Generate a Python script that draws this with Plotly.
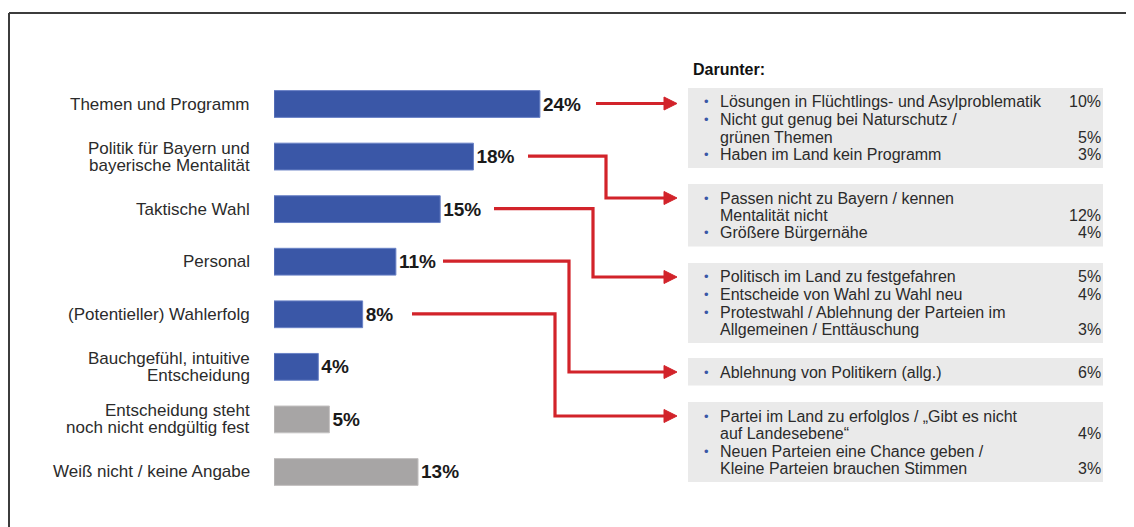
import plotly.graph_objects as go

W, H = 1134, 527
OFF = 8  # the page body adds an 8px margin, so the figure is drawn 8px smaller

# main bars
categories = [
    "Themen und Programm",
    "Politik für Bayern und<br>bayerische Mentalität",
    "Taktische Wahl",
    "Personal",
    "(Potentieller) Wahlerfolg",
    "Bauchgefühl, intuitive<br>Entscheidung",
    "Entscheidung steht<br>noch nicht endgültig fest",
    "Weiß nicht / keine Angabe",
]
values = [24, 18, 15, 11, 8, 4, 5, 13]
is_reason = [True, True, True, True, True, True, False, False]

# "Darunter" detail boxes: (text lines, percent)
detail_themen = [
    (["Lösungen in Flüchtlings- und Asylproblematik"], 10),
    (["Nicht gut genug bei Naturschutz /", "grünen Themen"], 5),
    (["Haben im Land kein Programm"], 3),
]
detail_bayern = [
    (["Passen nicht zu Bayern / kennen", "Mentalität nicht"], 12),
    (["Größere Bürgernähe"], 4),
]
detail_taktik = [
    (["Politisch im Land zu festgefahren"], 5),
    (["Entscheide von Wahl zu Wahl neu"], 4),
    (["Protestwahl / Ablehnung der Parteien im", "Allgemeinen / Enttäuschung"], 3),
]
detail_personal = [
    (["Ablehnung von Politikern (allg.)"], 6),
]
detail_erfolg = [
    (["Partei im Land zu erfolglos / „Gibt es nicht", "auf Landesebene“"], 4),
    (["Neuen Parteien eine Chance geben /", "Kleine Parteien brauchen Stimmen"], 3),
]
details = [detail_themen, detail_bayern, detail_taktik, detail_personal, detail_erfolg]

# layout constants (page pixels)
BLUE = "#3A57A7"
GRAY = "#A7A5A5"
RED = "#D2232A"
TXT = "#2b2b2b"
FONT = "Liberation Sans, Arial, sans-serif"
BAR_X0 = 274
PX_PER_PCT = 11.08
ROW_TOP, ROW_STEP = 104, 52.57
BOX_X0, BOX_X1 = 688, 1103
BOX_TOPS = [88, 184, 263, 358, 402]
LINE_H = 17.5
TIP_X = 677
# start x and elbow x of each connector
CONN_START = [596, 528, 494, 443, 412]
CONN_ELBOW = [None, 606, 593, 569, 555]

FW, FH = W - OFF, H - OFF


def px(x):
    return (x - OFF) / FW


def py(y):
    return 1 - (y - OFF) / FH


y_top = ROW_TOP - ROW_STEP / 2
y_bot = ROW_TOP + ROW_STEP * (len(categories) - 0.5)

fig = go.Figure()
fig.add_trace(go.Bar(
    x=values, y=categories, orientation="h",
    marker=dict(color=[BLUE if r else GRAY for r in is_reason],
                line=dict(color=["#6A82C6" if r else "#C4C2C2" for r in is_reason], width=1)),
    width=0.51,
    texttemplate="<b>%{x}%</b>", textposition="outside",
    textfont=dict(family=FONT, size=19, color="#1a1a1a"),
    cliponaxis=False, constraintext="none", hoverinfo="skip",
))

annotations = []
# category labels, one annotation per line to keep tight spacing
for cat in categories:
    lines = cat.split("<br>")
    n = len(lines)
    for j, line in enumerate(lines):
        annotations.append(dict(
            x=px(252), xref="paper", y=cat, yref="y", xanchor="right", yanchor="middle",
            yshift=((n - 1) / 2 - j) * 17, text=line, showarrow=False,
            font=dict(family=FONT, size=17, color=TXT)))

annotations.append(dict(x=px(691), y=py(70), xref="paper", yref="paper", xanchor="left",
                        yanchor="middle", text="<b>Darunter:</b>", showarrow=False,
                        font=dict(family=FONT, size=16, color="#111")))

shapes = []
for b, items in enumerate(details):
    top = BOX_TOPS[b]
    nlines = sum(len(l) for l, _ in items)
    shapes.append(dict(type="rect", xref="paper", yref="paper", x0=px(BOX_X0), x1=px(BOX_X1),
                       y0=py(top), y1=py(top + nlines * LINE_H + 10),
                       fillcolor="#EAEAEA", line=dict(width=0), layer="below"))
    k = 0
    for lines, pct in items:
        for j, line in enumerate(lines):
            yy = py(top + 14 + k * LINE_H)
            if j == 0:
                annotations.append(dict(x=px(706), y=yy, xref="paper", yref="paper", xanchor="center",
                                        yanchor="middle", text="•", showarrow=False,
                                        font=dict(family=FONT, size=13, color=BLUE)))
            annotations.append(dict(x=px(718), y=yy, xref="paper", yref="paper", xanchor="left",
                                    yanchor="middle", text=line, showarrow=False,
                                    font=dict(family=FONT, size=16, color=TXT)))
            if j == len(lines) - 1:
                annotations.append(dict(x=px(1103), y=yy, xref="paper", yref="paper", xanchor="right",
                                        yanchor="middle", text=f"{pct}%", showarrow=False,
                                        font=dict(family=FONT, size=16, color=TXT)))
            k += 1

# red connectors from bars to the detail boxes
for i in range(len(details)):
    y0 = ROW_TOP + i * ROW_STEP - 0.5
    y1 = BOX_TOPS[i] + 14 if CONN_ELBOW[i] is not None else y0
    x0 = CONN_START[i]
    xe = CONN_ELBOW[i]
    end = TIP_X - 12
    if xe is None:
        path = f"M {px(x0)},{py(y0)} L {px(end)},{py(y0)}"
    else:
        path = (f"M {px(x0)},{py(y0)} L {px(xe)},{py(y0)} L {px(xe)},{py(y1)} "
                f"L {px(end)},{py(y1)}")
    shapes.append(dict(type="path", xref="paper", yref="paper", path=path,
                       line=dict(color=RED, width=3.2)))
    head = (f"M {px(TIP_X - 13)},{py(y1 - 6.5)} L {px(TIP_X)},{py(y1)} "
            f"L {px(TIP_X - 13)},{py(y1 + 6.5)} Z")
    shapes.append(dict(type="path", xref="paper", yref="paper", path=head,
                       fillcolor=RED, line=dict(color=RED, width=1)))

# frame lines
shapes.append(dict(type="line", xref="paper", yref="paper", x0=px(9), x1=px(W), y0=py(13), y1=py(13),
                   line=dict(color="#3c3c3c", width=2)))
shapes.append(dict(type="line", xref="paper", yref="paper", x0=px(9), x1=px(9), y0=py(13), y1=py(H),
                   line=dict(color="#3c3c3c", width=2)))

fig.update_layout(
    width=FW, height=FH, margin=dict(l=0, r=0, t=0, b=0),
    paper_bgcolor="white", plot_bgcolor="rgba(0,0,0,0)",
    showlegend=False, bargap=0.49,
    xaxis=dict(domain=[px(BAR_X0), 1], range=[0, (W - BAR_X0) / PX_PER_PCT],
               visible=False, fixedrange=True),
    yaxis=dict(domain=[py(y_bot), py(y_top)], autorange="reversed", showticklabels=False,
               showgrid=False, zeroline=False, showline=False, ticks="", fixedrange=True),
    annotations=annotations, shapes=shapes,
)

fig.write_html("out.html")
